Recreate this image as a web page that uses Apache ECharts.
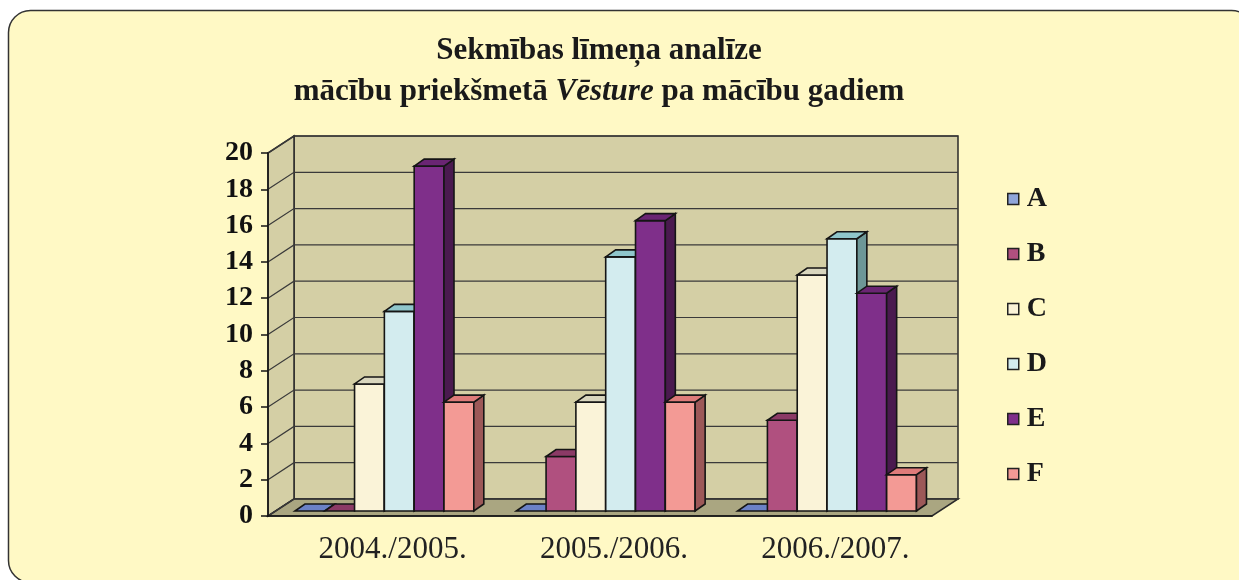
<!DOCTYPE html>
<html>
<head>
<meta charset="utf-8">
<script src="https://cdn.jsdelivr.net/npm/echarts@6/dist/echarts.min.js"></script>
<style>
  html, body { margin: 0; padding: 0; background: #ffffff; }
  #chart { width: 1239px; height: 580px; }
</style>
</head>
<body>
<div id="chart"></div>
<script>
// data
const categories = ['2004./2005.', '2005./2006.', '2006./2007.'];
const seriesNames = ['A', 'B', 'C', 'D', 'E', 'F'];
const valuesA = [0, 0, 0];
const valuesB = [0, 3, 5];
const valuesC = [7, 6, 13];
const valuesD = [11, 14, 15];
const valuesE = [19, 16, 12];
const valuesF = [6, 6, 2];
const yTicks = [0, 2, 4, 6, 8, 10, 12, 14, 16, 18, 20];

const allValues = [valuesA, valuesB, valuesC, valuesD, valuesE, valuesF];

// colours of the three visible faces of every bar
const faceColors = [
  { front: '#8fa5d9', top: '#6b81c6', side: '#4c5d94' },
  { front: '#b0507f', top: '#8b3a66', side: '#6e2a50' },
  { front: '#faf3d8', top: '#d9d6be', side: '#b3ae93' },
  { front: '#d3ecef', top: '#8fc6cb', side: '#6d9797' },
  { front: '#7f2f8a', top: '#6a2573', side: '#4a1a4f' },
  { front: '#f39a95', top: '#de7b7a', side: '#9c5858' }
];

// 3d look: depth of the walls and of the bars
const WALL_DX = 26, WALL_DY = -17;
const BAR_DX = 10, BAR_DY = -7;
const BAR_OFF_X = 7.6, BAR_OFF_Y = -5;

const edge = '#151515';
const serif = '"Liberation Serif", "DejaVu Serif", serif';

let chart = echarts.init(document.getElementById('chart'));

function wallsItem(params, api) {
  const band = api.size([1, 0])[0];
  const left = api.coord([0, 0])[0] - band / 2;
  const right = api.coord([categories.length - 1, 0])[0] + band / 2;
  const y0 = api.coord([0, 0])[1];
  const yTop = api.coord([0, yTicks[yTicks.length - 1]])[1];
  const kids = [];
  // back wall
  kids.push({
    type: 'polygon',
    shape: { points: [[left + WALL_DX, yTop + WALL_DY], [right + WALL_DX, yTop + WALL_DY],
      [right + WALL_DX, y0 + WALL_DY], [left + WALL_DX, y0 + WALL_DY]] },
    style: { fill: '#d4cfa5', stroke: '#2a2a2a', lineWidth: 1.5 }
  });
  // left wall
  kids.push({
    type: 'polygon',
    shape: { points: [[left, y0], [left, yTop], [left + WALL_DX, yTop + WALL_DY], [left + WALL_DX, y0 + WALL_DY]] },
    style: { fill: '#d4cfa5', stroke: '#2a2a2a', lineWidth: 1.5 }
  });
  // floor
  kids.push({
    type: 'polygon',
    shape: { points: [[left, y0], [right, y0], [right + WALL_DX, y0 + WALL_DY], [left + WALL_DX, y0 + WALL_DY]] },
    style: { fill: '#aaa681', stroke: '#2a2a2a', lineWidth: 1.5 }
  });
  // grid lines on the walls
  yTicks.forEach(function (t) {
    const y = api.coord([0, t])[1];
    kids.push({
      type: 'polyline',
      shape: { points: [[left, y], [left + WALL_DX, y + WALL_DY], [right + WALL_DX, y + WALL_DY]] },
      style: { fill: null, stroke: '#3a3a3a', lineWidth: 1.2 }
    });
  });
  return { type: 'group', children: kids };
}

function barRenderer(idx) {
  const c = faceColors[idx];
  return function (params, api) {
    const cat = api.value(0);
    const val = api.value(1);
    const base = api.coord([cat, 0]);
    const tip = api.coord([cat, val]);
    const band = api.size([1, 0])[0];
    const bw = band * 0.1347;
    const x0 = base[0] - 3 * bw - 1.9 + idx * bw + BAR_OFF_X;
    const x1 = x0 + bw;
    const yb = base[1] + BAR_OFF_Y;
    const yt = tip[1] + BAR_OFF_Y;
    const st = { stroke: edge, lineWidth: 1.6, lineJoin: 'miter' };
    const kids = [];
    if (yb - yt > 0.5) {
      kids.push({ type: 'rect', shape: { x: x0, y: yt, width: bw, height: yb - yt },
        style: Object.assign({ fill: c.front }, st) });
      kids.push({ type: 'polygon', shape: { points: [[x1, yt], [x1, yb], [x1 + BAR_DX, yb + BAR_DY], [x1 + BAR_DX, yt + BAR_DY]] },
        style: Object.assign({ fill: c.side }, st) });
    }
    kids.push({ type: 'polygon', shape: { points: [[x0, yt], [x1, yt], [x1 + BAR_DX, yt + BAR_DY], [x0 + BAR_DX, yt + BAR_DY]] },
      style: Object.assign({ fill: c.top }, st) });
    return { type: 'group', children: kids };
  };
}

let series = [{
  name: 'walls',
  type: 'custom',
  z: 1,
  silent: true,
  renderItem: wallsItem,
  data: [[0, 0]]
}];

seriesNames.forEach(function (name, i) {
  series.push({
    name: name,
    type: 'custom',
    z: 3,
    itemStyle: { color: faceColors[i].front },
    renderItem: barRenderer(i),
    data: allValues[i].map(function (v, k) { return [k, v]; })
  });
});

chart.setOption({
  animation: false,
  graphic: [{
    type: 'rect',
    z: -10,
    shape: { x: 8.5, y: 10.5, width: 1245, height: 572, r: 22 },
    style: { fill: '#fff9c5', stroke: '#333333', lineWidth: 1.5 }
  }],
  title: {
    left: 594,
    top: 25,
    textAlign: 'center',
    text: 'Sekmības līmeņa analīze\nmācību priekšmetā {i|Vēsture} pa mācību gadiem',
    textStyle: {
      fontFamily: serif, fontSize: 31, fontWeight: 'bold', color: '#1a1a1a', lineHeight: 41,
      rich: { i: { fontFamily: serif, fontSize: 31, fontWeight: 'bold', fontStyle: 'italic', color: '#1a1a1a', lineHeight: 41 } }
    }
  },
  legend: {
    data: seriesNames,
    orient: 'vertical',
    left: 1002,
    top: 180,
    itemGap: 27,
    itemWidth: 11,
    itemHeight: 11,
    icon: 'rect',
    itemStyle: { borderColor: '#222', borderWidth: 1.5 },
    textStyle: { fontFamily: serif, fontSize: 28, fontWeight: 'bold', color: '#1a1a1a', lineHeight: 28, padding: [0, 0, 0, 3] }
  },
  grid: { left: 268, top: 153, width: 664, height: 363 },
  xAxis: {
    type: 'category',
    data: categories,
    axisLine: { lineStyle: { color: edge, width: 1.5 } },
    axisTick: { length: 7, lineStyle: { color: edge, width: 1.5 } },
    axisLabel: { fontFamily: serif, fontSize: 31, color: '#222', margin: 18, padding: [0, 0, 0, 28] },
    z: 5
  },
  yAxis: {
    type: 'value',
    min: 0,
    max: 20,
    interval: 2,
    splitLine: { show: false },
    axisLine: { show: true, lineStyle: { color: edge, width: 1.5 } },
    axisTick: { show: true, length: 7, lineStyle: { color: edge, width: 1.5 } },
    axisLabel: { fontFamily: serif, fontSize: 28, fontWeight: 'bold', color: '#111', margin: 15 },
    z: 5
  },
  series: series
});
</script>
</body>
</html>
